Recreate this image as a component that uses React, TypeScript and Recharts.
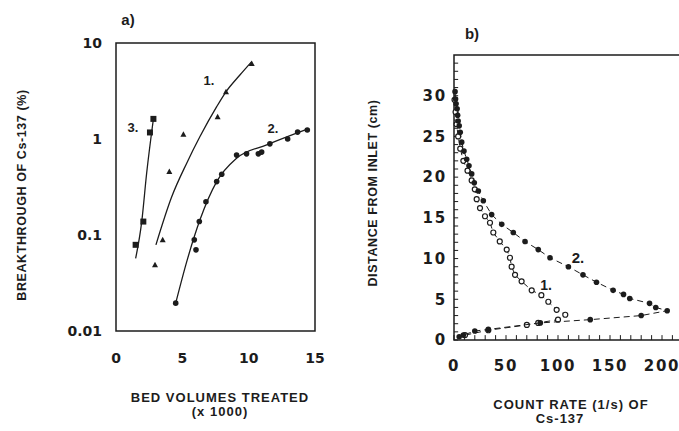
import React from "react"
import { ScatterChart, Scatter, XAxis, YAxis, ReferenceArea, ReferenceLine } from "recharts"

// panel a) breakthrough of Cs-137 vs bed volumes treated (x 1000)
const series3Points = [
  { x: 1.48, y: 0.079 },
  { x: 2.06, y: 0.138 },
  { x: 2.56, y: 1.17 },
  { x: 2.82, y: 1.62 },
]
const series3Curve = [
  { x: 1.48, y: 0.057 },
  { x: 1.94, y: 0.138 },
  { x: 2.31, y: 0.44 },
  { x: 2.82, y: 1.62 },
]
const series1Points = [
  { x: 2.94, y: 0.049 },
  { x: 3.52, y: 0.089 },
  { x: 4.02, y: 0.46 },
  { x: 5.08, y: 1.12 },
  { x: 7.66, y: 1.71 },
  { x: 8.29, y: 3.1 },
  { x: 10.23, y: 6.1 },
]
const series1Curve = [
  { x: 3.01, y: 0.079 },
  { x: 4.2, y: 0.25 },
  { x: 5.33, y: 0.56 },
  { x: 6.33, y: 1.06 },
  { x: 7.59, y: 2.17 },
  { x: 8.29, y: 3.1 },
  { x: 9.34, y: 4.64 },
  { x: 10.23, y: 6.4 },
]
const series2Points = [
  { x: 4.5, y: 0.0195 },
  { x: 6.03, y: 0.07 },
  { x: 5.9, y: 0.089 },
  { x: 6.28, y: 0.138 },
  { x: 6.78, y: 0.222 },
  { x: 7.59, y: 0.36 },
  { x: 7.97, y: 0.43 },
  { x: 9.09, y: 0.68 },
  { x: 9.84, y: 0.7 },
  { x: 10.73, y: 0.7 },
  { x: 10.98, y: 0.73 },
  { x: 11.6, y: 0.89 },
  { x: 12.94, y: 1.0 },
  { x: 13.69, y: 1.18 },
  { x: 14.42, y: 1.24 },
]
const series2Curve = [
  { x: 4.5, y: 0.0195 },
  { x: 5.37, y: 0.055 },
  { x: 6.33, y: 0.144 },
  { x: 7.59, y: 0.36 },
  { x: 9.09, y: 0.63 },
  { x: 11.36, y: 0.87 },
  { x: 14.42, y: 1.27 },
]
const aTicksX = [0, 5, 10, 15]
const aTicksY = [0.01, 0.1, 1, 10]

// panel b) count rate profile along the column
const profile2 = [
  { x: 1, y: 30.5 }, { x: 1.5, y: 29.6 }, { x: 2, y: 29 }, { x: 3, y: 28.4 },
  { x: 3.5, y: 27.6 }, { x: 4, y: 26.9 }, { x: 5, y: 26.3 }, { x: 6, y: 25.5 },
  { x: 7.4, y: 24.3 }, { x: 9.6, y: 23.2 }, { x: 12.2, y: 22.2 }, { x: 14.4, y: 21.4 },
  { x: 17, y: 20.4 }, { x: 19.5, y: 19.3 }, { x: 23.4, y: 18.3 }, { x: 28.2, y: 17.1 },
  { x: 36.2, y: 15.4 }, { x: 45.9, y: 14.2 }, { x: 57, y: 13.2 }, { x: 68.3, y: 12.1 },
  { x: 81, y: 11.1 }, { x: 92.3, y: 10.1 }, { x: 110, y: 9.0 }, { x: 124, y: 8.0 },
  { x: 137, y: 7.1 }, { x: 153, y: 6.1 }, { x: 163, y: 5.6 }, { x: 169, y: 5.1 },
  { x: 188, y: 4.5 }, { x: 194, y: 4.0 }, { x: 205, y: 3.6 }, { x: 180, y: 3.0 },
  { x: 131, y: 2.5 }, { x: 83, y: 2.1 }, { x: 33, y: 1.3 }, { x: 20, y: 1.1 },
  { x: 9, y: 0.6 }, { x: 5, y: 0.4 },
]
const profile1 = [
  { x: 0.5, y: 29.5 }, { x: 1.5, y: 28 }, { x: 2.5, y: 26.5 }, { x: 4, y: 25 },
  { x: 6, y: 23.5 }, { x: 9, y: 22 }, { x: 13, y: 20.8 }, { x: 17, y: 19.6 },
  { x: 20, y: 18.5 }, { x: 21.8, y: 17.3 }, { x: 25, y: 16.2 }, { x: 29.8, y: 15.2 },
  { x: 34.6, y: 14.4 }, { x: 37.8, y: 13.2 }, { x: 44, y: 12.1 }, { x: 50.7, y: 11.1 },
  { x: 53.8, y: 10.1 }, { x: 55.4, y: 9.0 }, { x: 58.7, y: 8.0 }, { x: 65, y: 7.2 },
  { x: 74.7, y: 6.1 }, { x: 84, y: 5.5 }, { x: 90.7, y: 4.7 }, { x: 98.7, y: 3.7 },
  { x: 107, y: 3.1 }, { x: 100, y: 2.5 }, { x: 81, y: 2.1 }, { x: 70, y: 1.85 },
  { x: 33, y: 1.2 }, { x: 10.6, y: 0.6 },
]
const bTicksX = [0, 50, 100, 150, 200]
const bTicksY = [0, 5, 10, 15, 20, 25, 30]
const bMinorY = [1, 2, 3, 4, 6, 7, 8, 9, 11, 12, 13, 14, 16, 17, 18, 19, 21, 22, 23, 24, 26, 27, 28, 29, 31, 32, 33, 34]
const bMinorX = [10, 20, 30, 40, 60, 70, 80, 90, 110, 120, 130, 140, 160, 170, 180, 190, 210, 220, 230, 240]

const ink = "#1c1c1c"
const labelFont = "'Liberation Sans', Arial, sans-serif"
const tickStyle = { fontFamily: "'DejaVu Sans', sans-serif", fontWeight: 700, fontSize: 14, fill: ink }
const tickStyleB = { ...tickStyle, fontSize: 15, letterSpacing: 1.8 }

const noMarker = () => <g />
const square = (p: any) => <rect x={p.cx - 3} y={p.cy - 3} width={6} height={6} fill={ink} />
const triangle = (p: any) => (
  <polygon points={`${p.cx},${p.cy - 3} ${p.cx - 3},${p.cy + 2.5} ${p.cx + 3},${p.cy + 2.5}`} fill={ink} />
)
const dot = (p: any) => <circle cx={p.cx} cy={p.cy} r={2.8} fill={ink} />
const openDot = (p: any) => <circle cx={p.cx} cy={p.cy} r={2.5} fill="#fff" stroke={ink} strokeWidth={1.2} />

function Text({ x, y, children, size = 13, rotate = false, spacing = 0 }: any) {
  return (
    <div
      style={{
        position: "absolute",
        left: x,
        top: y,
        transform: `translate(-50%, -50%)${rotate ? " rotate(-90deg)" : ""}`,
        whiteSpace: "nowrap",
        fontFamily: labelFont,
        fontWeight: 700,
        fontSize: size,
        letterSpacing: spacing,
        color: ink,
        lineHeight: 1,
      }}
    >
      {children}
    </div>
  )
}

export default function App() {
  return (
    <div
      style={{
        position: "fixed",
        left: 0,
        top: 0,
        width: 679,
        height: 431,
        overflow: "hidden",
        background: "#fff",
      }}
    >
      <div style={{ position: "absolute", left: 0, top: 0 }}>
        <ScatterChart width={340} height={431} margin={{ top: 43, right: 25, bottom: 70, left: 56 }}>
          <XAxis
            type="number"
            dataKey="x"
            domain={[0, 15]}
            ticks={aTicksX}
            axisLine={false}
            tickLine={false}
            tickSize={6}
            tickMargin={16}
            height={30}
            tick={tickStyle}
          />
          <YAxis
            type="number"
            dataKey="y"
            scale="log"
            domain={[0.01, 10]}
            allowDataOverflow
            ticks={aTicksY}
            tickFormatter={(v) => String(v)}
            axisLine={false}
            tickLine={false}
            tickSize={6}
            tickMargin={8}
            width={60}
            tick={tickStyle}
          />
          <ReferenceArea x1={0} x2={15} y1={0.01} y2={10} fill="none" stroke={ink} strokeWidth={1.5} />
          <Scatter data={series3Curve} shape={noMarker} line={{ stroke: ink, strokeWidth: 1.3 }} lineJointType="monotoneX" isAnimationActive={false} />
          <Scatter data={series1Curve} shape={noMarker} line={{ stroke: ink, strokeWidth: 1.3 }} lineJointType="monotoneX" isAnimationActive={false} />
          <Scatter data={series2Curve} shape={noMarker} line={{ stroke: ink, strokeWidth: 1.3 }} lineJointType="monotoneX" isAnimationActive={false} />
          <Scatter data={series3Points} shape={square} isAnimationActive={false} />
          <Scatter data={series1Points} shape={triangle} isAnimationActive={false} />
          <Scatter data={series2Points} shape={dot} isAnimationActive={false} />
        </ScatterChart>
      </div>

      <div style={{ position: "absolute", left: 340, top: 0 }}>
        <ScatterChart width={400} height={431} margin={{ top: 55, right: 26, bottom: 61, left: 54 }}>
          <XAxis
            type="number"
            dataKey="x"
            domain={[0, 250]}
            ticks={bTicksX}
            axisLine={false}
            tickLine={false}
            tickSize={4}
            tickMargin={16}
            height={30}
            tick={tickStyleB}
          />
          <YAxis
            type="number"
            dataKey="y"
            domain={[0, 35]}
            ticks={bTicksY}
            axisLine={false}
            tickLine={false}
            tickSize={4}
            tickMargin={3}
            width={60}
            tick={tickStyleB}
          />
          <ReferenceArea x1={0} x2={250} y1={0} y2={35} fill="none" stroke={ink} strokeWidth={1.5} />
          {bMinorY.concat(bTicksY).map((v) => (
            <ReferenceLine key={"y" + v} segment={[{ x: 0, y: v }, { x: 4, y: v }]} stroke={ink} strokeWidth={1} />
          ))}
          {bMinorX.concat(bTicksX).map((v) => (
            <ReferenceLine key={"x" + v} segment={[{ x: v, y: 0 }, { x: v, y: 0.6 }]} stroke={ink} strokeWidth={1} />
          ))}
          <Scatter
            data={profile1}
            shape={openDot}
            line={{ stroke: ink, strokeWidth: 1, strokeDasharray: "6 4" }}
            lineJointType="linear"
            isAnimationActive={false}
          />
          <Scatter
            data={profile2}
            shape={dot}
            line={{ stroke: ink, strokeWidth: 1, strokeDasharray: "6 4" }}
            lineJointType="linear"
            isAnimationActive={false}
          />
        </ScatterChart>
      </div>

      <Text x={128} y={19} size={15}>a)</Text>
      <Text x={472} y={33} size={15}>b)</Text>

      <Text x={133} y={127} size={13}>3.</Text>
      <Text x={209} y={80} size={13}>1.</Text>
      <Text x={273} y={128} size={13}>2.</Text>
      <Text x={578} y={257} size={15}>2.</Text>
      <Text x={546} y={285} size={14}>1.</Text>

      <Text x={22} y={195} size={12.5} rotate spacing={0.6}>BREAKTHROUGH OF Cs-137 (%)</Text>
      <Text x={220} y={397} size={13} spacing={1}>BED VOLUMES TREATED</Text>
      <Text x={220} y={411} size={13} spacing={1}>(x 1000)</Text>

      <Text x={373} y={193} size={12.5} rotate spacing={0.6}>DISTANCE FROM INLET (cm)</Text>
      <Text x={571} y={404} size={13} spacing={1}>COUNT RATE (1/s) OF</Text>
      <Text x={560} y={418} size={13} spacing={1}>Cs-137</Text>
    </div>
  )
}
